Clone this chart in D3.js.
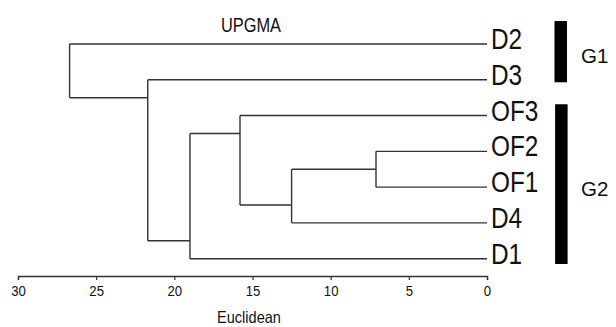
<!DOCTYPE html>
<html><head><meta charset="utf-8">
<script src="https://cdn.jsdelivr.net/npm/d3@7"></script>
<style>body{margin:0;background:#fff}svg{display:block}text{font-family:"Liberation Sans",Arial,sans-serif;fill:#111}</style>
</head><body><svg id="c" width="616" height="327"></svg>
<script>
// ---- data ----
const leaves = ["D2","D3","OF3","OF2","OF1","D4","D1"];
// merges: [left, right, distance, nodeName]
const mergeLeft  = ["OF2","A","OF3","C","D3","D2"];
const mergeRight = ["OF1","D4","B","D1","E","F"];
const mergeDist  = [7.1, 12.5, 15.8, 19.0, 21.7, 26.7];
const mergeName  = ["A","B","C","E","F","root"];
const xTicks = [30,25,20,15,10,5,0];
const groupNames = ["G1","G2"];
const groupFirst = ["D2","OF3"];
const groupLast  = ["D3","D1"];
const title = "UPGMA", xTitle = "Euclidean";

// ---- layout ----
const svg = d3.select("#c");
const x = d3.scaleLinear().domain([30,0]).range([18,487]);
const y = d3.scalePoint().domain(leaves).range([44,258.7]);

const nodes = {};
leaves.forEach(l => nodes[l] = {name:l, h:0, y:y(l), first:l, last:l});
mergeName.forEach((n,i) => {
  const L = nodes[mergeLeft[i]], R = nodes[mergeRight[i]];
  nodes[n] = {name:n, h:mergeDist[i], L, R, first:L.first, last:R.last,
              y:(y(L.last)+y(R.first))/2};
});

const g = svg.append("g").attr("fill","none").attr("stroke","#333").attr("stroke-width",1.4);
mergeName.forEach(n => {
  const nd = nodes[n];
  [nd.L, nd.R].forEach(c => {
    g.append("line").attr("x1",x(nd.h)).attr("x2",x(c.h)).attr("y1",c.y).attr("y2",c.y);
  });
  g.append("line").attr("x1",x(nd.h)).attr("x2",x(nd.h)).attr("y1",nd.L.y).attr("y2",nd.R.y);
});

function squeeze(sel, f){ sel.each(function(){ const w=this.getComputedTextLength(); d3.select(this).attr("textLength",w*f).attr("lengthAdjust","spacingAndGlyphs"); }); return sel; }

// leaf labels
squeeze(svg.append("g").selectAll("text").data(leaves).join("text")
  .attr("x",x(0)+4).attr("y",d=>y(d)+5).attr("font-size",29).text(d=>d), 0.84);

// axis
const axis = svg.append("g").attr("transform","translate(0,276)")
  .call(d3.axisBottom(x).tickValues(xTicks).tickSize(4).tickPadding(5).tickFormat(d3.format("d")));
axis.select(".domain").attr("stroke","#333").attr("stroke-width",1.4);
axis.selectAll(".tick line").attr("stroke","#333").attr("stroke-width",1.2);
squeeze(axis.selectAll(".tick text").attr("font-size",15.5).attr("fill","#222").attr("font-family","Liberation Sans, Arial, sans-serif"),0.85);

// titles
squeeze(svg.append("text").attr("x",251).attr("y",32).attr("text-anchor","middle").attr("font-size",21).attr("fill","#333").text(title),0.78);
squeeze(svg.append("text").attr("x",249).attr("y",322.5).attr("text-anchor","middle").attr("font-size",16.5).attr("fill","#333").text(xTitle),0.88);

// group bars
const padTop = [23, 11.3], padBot = [2.5, 5.3];
groupNames.forEach((gn,i) => {
  const y0 = y(groupFirst[i]) - padTop[i], y1 = y(groupLast[i]) + padBot[i];
  svg.append("rect").attr("x",554.5+i*0.6).attr("width",12.5).attr("y",y0).attr("height",y1-y0).attr("fill","#000");
  svg.append("text").attr("x",581).attr("y",(y0+y1)/2+11.5).attr("font-size",20.5).attr("fill","#111").text(gn);
});
</script></body></html>
